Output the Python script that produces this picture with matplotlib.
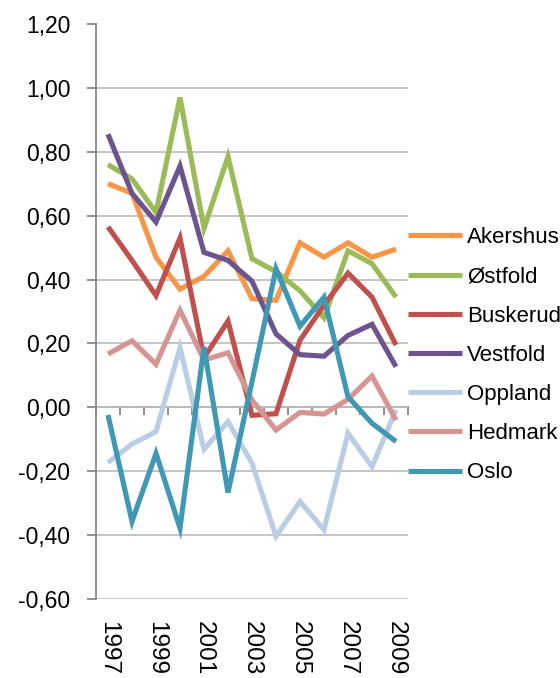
import matplotlib
matplotlib.use("Agg")
import matplotlib.pyplot as plt
import numpy as np

years = list(range(1997, 2010))

akershus = [0.70, 0.67, 0.47, 0.37, 0.41, 0.49, 0.34, 0.335, 0.515, 0.47, 0.515, 0.47, 0.495]
ostfold = [0.76, 0.715, 0.61, 0.97, 0.56, 0.785, 0.465, 0.425, 0.365, 0.28, 0.49, 0.45, 0.345]
buskerud = [0.565, 0.46, 0.35, 0.53, 0.155, 0.27, -0.025, -0.02, 0.21, 0.32, 0.42, 0.345, 0.195]
vestfold = [0.855, 0.67, 0.58, 0.755, 0.485, 0.46, 0.395, 0.23, 0.165, 0.16, 0.225, 0.26, 0.127]
oppland = [-0.173, -0.115, -0.076, 0.187, -0.131, -0.045, -0.175, -0.404, -0.295, -0.383, -0.081, -0.186, -0.008]
hedmark = [0.167, 0.208, 0.135, 0.304, 0.148, 0.171, 0.023, -0.071, -0.016, -0.021, 0.025, 0.098, -0.04]
oslo = [-0.024, -0.357, -0.144, -0.378, 0.189, -0.267, 0.08, 0.434, 0.254, 0.345, 0.033, -0.05, -0.107]

series = [
    ("Akershus", akershus, "#F79646"),
    ("Østfold", ostfold, "#9BBB59"),
    ("Buskerud", buskerud, "#C0504D"),
    ("Vestfold", vestfold, "#6E548F"),
    ("Oppland", oppland, "#B9CDE5"),
    ("Hedmark", hedmark, "#D59592"),
    ("Oslo", oslo, "#3F98B4"),
]

plt.rcParams['font.family'] = ['Liberation Sans', 'DejaVu Sans']

fig = plt.figure(figsize=(5.6, 6.78), dpi=100)
ax = fig.add_axes([96 / 560, 1 - 599 / 678, 312 / 560, 575 / 678])

x = np.arange(len(years))
for name, vals, col in series:
    ax.plot(x, vals, color=col, lw=3.7, label=name, solid_joinstyle='miter', solid_capstyle='butt')

ax.set_xlim(-0.5, len(years) - 0.5)
ax.set_ylim(-0.6, 1.2)
yt = np.arange(-0.6, 1.21, 0.2)
ax.set_yticks(yt)
ax.set_yticklabels([f"{v:.2f}".replace(".", ",").replace("-0,00", "0,00") for v in yt])
ax.yaxis.grid(True, color="#BFBFBF", lw=1.3)
ax.set_axisbelow(True)
ax.yaxis.get_gridlines()[-1].set_visible(False)

for s in ["top", "right", "bottom"]:
    ax.spines[s].set_visible(False)
ax.spines["left"].set_color("#868686")
ax.spines["left"].set_linewidth(1.3)
ax.tick_params(axis="y", direction="out", length=6.5, width=1.3, color="#868686",
               pad=12, labelsize=16.5)

ax.set_xticks(x[::2])
ax.set_xticklabels([str(y) for y in years[::2]], rotation=-90, fontsize=17.5)
ax.tick_params(axis="x", length=0, pad=16)

# horizontal axis crossing at zero
zero = ax.secondary_xaxis(0.6 / 1.8)
zero.set_xticks(np.arange(-0.5, len(years)))
zero.set_xticklabels([])
zero.tick_params(direction="out", length=6, width=1.3, color="#868686")
zero.spines["bottom"].set_color("#868686")
zero.spines["bottom"].set_linewidth(1.3)

fig.legend(loc="center left", bbox_to_anchor=(0.728, 0.476), frameon=False,
           fontsize=16, handlelength=2.45, handletextpad=0.22, labelspacing=0.82,
           borderpad=0, borderaxespad=0)

fig.savefig("out.png", dpi=100)
